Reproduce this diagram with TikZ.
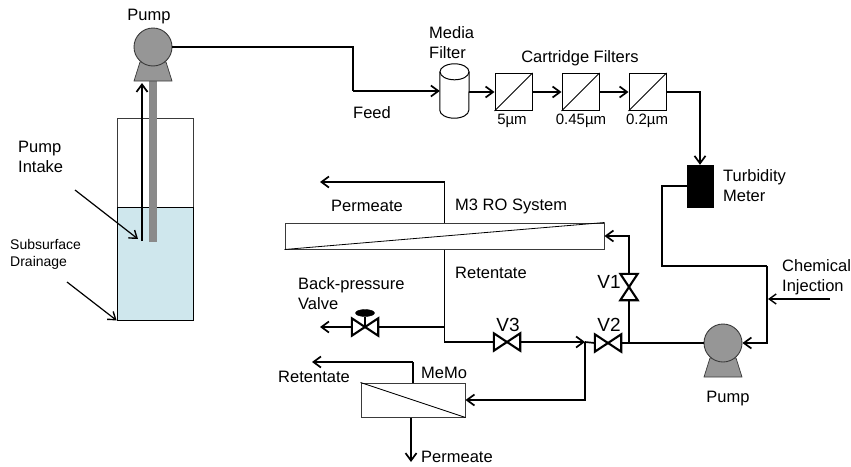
\documentclass[tikz,border=0pt]{standalone}
\usepackage{fontspec}
\setmainfont{Liberation Sans}
\usepackage{tikz}
\usetikzlibrary{arrows.meta,shapes.geometric}
\usepackage{xcolor}
\definecolor{PumpGray}{HTML}{969696}
\definecolor{PipeGray}{HTML}{8A8A8A}
\definecolor{Water}{HTML}{CFE7ED}
\definecolor{Edge}{HTML}{3A3A3A}
\tikzset{
  pipe/.style={line width=1.7pt},
  flow/.style={pipe, -{Straight Barb[length=7.5pt,width=11pt,line width=1.7pt]}},
  thinflow/.style={line width=1.2pt, -{Straight Barb[length=7pt,width=10pt,line width=1.4pt]}},
  lbl/.style={inner sep=0pt, align=left, font=\fontsize{16.5}{20}\selectfont},
  smalllbl/.style={lbl, font=\fontsize{14}{17}\selectfont},
  sizelbl/.style={lbl, font=\fontsize{15}{18}\selectfont},
  valvelbl/.style={lbl, font=\fontsize{19}{22}\selectfont},
  cartbox/.style={draw, line width=1pt, minimum size=37pt, inner sep=0pt},
  membox/.style={draw=Edge, line width=1pt, fill=white, inner sep=0pt},
  valvebox/.style={inner sep=0pt, fill=white},
  valveh/.style={valvebox, minimum width=26pt, minimum height=17pt},
  valvev/.style={valvebox, minimum width=17pt, minimum height=26pt},
  bowtie/.style={line width=2.1pt, line join=miter},
  pumpbody/.style={circle, draw=Edge, line width=0.9pt, fill=PumpGray, minimum size=38pt, inner sep=0pt},
  pumpbase/.style={draw=Edge, line width=0.7pt, fill=PumpGray},
}
\newcommand{\pumpsym}[2]{%
  \draw[pumpbase] (#2) ++(-13,15) -- ++(-6,19) -- ++(38,0) -- ++(-6,-19) -- cycle;
  \node[pumpbody] (#1) at (#2) {};}
\newcommand{\valveh}[2]{%
  \node[valveh] (#1) at (#2) {};
  \draw[bowtie] (#1.north west) -- (#1.south east) -- (#1.north east) -- (#1.south west) -- cycle;}
\newcommand{\valvev}[2]{%
  \node[valvev] (#1) at (#2) {};
  \draw[bowtie] (#1.north west) -- (#1.south east) -- (#1.south west) -- (#1.north east) -- cycle;}

\begin{document}
\begin{tikzpicture}[x=1pt, y=-1pt]
  \useasboundingbox (0,0) rectangle (851,466);

  % drainage well
  \node[draw=Edge, line width=0.8pt, minimum width=76pt, minimum height=202pt, inner sep=0pt] (well) at (155,219) {};
  \node[draw=black, line width=1pt, fill=Water, minimum width=76pt, minimum height=113pt, inner sep=0pt] (water) at (155,263.5) {};
  \draw[PipeGray, line width=8pt] (153,75) -- (153,242);
  \pumpsym{pumpa}{153,47}
  \node[lbl] (pumpatxt) at (149,17) {Pump};
  \coordinate (pumpamouth) at (142,83);
  \coordinate (suction) at (142,241);
  \draw[flow] (suction) -- (pumpamouth);
  \node[lbl, anchor=west] (intaketxt) at (18,157) {Pump\\[0pt]Intake};
  \node[smalllbl, anchor=west] (draintxt) at (10,254.5) {Subsurface\\Drainage};
  \coordinate (intakefrom) at (75,190);
  \coordinate (intaketo) at (138,239);
  \coordinate (drainfrom) at (67,282);
  \draw[thinflow] (intakefrom) -- (intaketo);
  \draw[thinflow] (drainfrom) -- (well.south west);

  % pretreatment train
  \node[minimum width=29pt, minimum height=54pt, inner sep=0pt] (media) at (454.5,91) {};
  \draw[line width=1pt] ([yshift=-8pt]media.north west) -- ([yshift=8pt]media.south west)
    arc[start angle=180, end angle=360, x radius=14.5pt, y radius=8pt] -- ([yshift=-8pt]media.north east);
  \draw[line width=1pt] ([yshift=-8pt]media.north) ellipse [x radius=14.5pt, y radius=8pt];
  \node[cartbox] (carta) at (513.5,92) {};
  \node[cartbox] (cartb) at (580.5,92) {};
  \node[cartbox] (cartc) at (647.5,92) {};
  \foreach \c in {carta,cartb,cartc}
    \draw[line width=0.8pt] (\c.south west) -- (\c.north east);
  \node[lbl, anchor=west] (mediatxt) at (429,42.5) {Media\\Filter};
  \node[lbl] (carttxt) at (580,58) {Cartridge Filters};
  \node[sizelbl] (sizea) at (512,121) {5µm};
  \node[sizelbl] (sizeb) at (581,121) {0.45µm};
  \node[sizelbl] (sizec) at (647,121) {0.2µm};
  \node[lbl] (feedtxt) at (372,113) {Feed};

  \coordinate (feedbend) at (353,91);
  \draw[pipe] (pumpa.east) -| (feedbend);
  \draw[flow] (feedbend) -- (media.west |- feedbend);
  \draw[flow] (media.east |- carta) -- (carta.west);
  \draw[flow] (carta.east) -- (cartb.west);
  \draw[flow] (cartb.east) -- (cartc.west);

  % turbidity meter and feed pump
  \node[draw, fill=black, minimum width=26pt, minimum height=42pt, inner sep=0pt] (meter) at (700,186) {};
  \node[lbl, anchor=west] (metertxt) at (723,185.5) {Turbidity\\Meter};
  \draw[flow] (cartc.east) -| (meter.north);
  \pumpsym{pumpb}{723,343}
  \node[lbl] (pumpbtxt) at (728,399) {Pump};
  \coordinate (loopa) at (662,266);
  \coordinate (loopb) at (767,266);
  \draw[pipe] (meter.west) -| (loopa) -- (loopb);
  \draw[flow] (loopb) |- (pumpb.east);
  \node[lbl, anchor=west] (chemtxt) at (782,277) {Chemical\\Injection};
  \coordinate (chemfrom) at (830,299);
  \coordinate (chemto) at (768,299);
  \draw[thinflow] (chemfrom) -- (chemto);

  % RO system
  \node[membox, minimum width=319pt, minimum height=26pt] (ro) at (444.5,236) {};
  \draw[line width=0.8pt] (ro.south west) -- (ro.north east);
  \node[lbl] (permtxt) at (367,206) {Permeate};
  \node[lbl, anchor=west] (rotxt) at (455,206) {M3 RO System};
  \node[lbl, anchor=west] (rettxt) at (455,273) {Retentate};
  \coordinate (permbend) at (444.5,182);
  \coordinate (permend) at (320,182);
  \draw[pipe] (ro.north) -- (permbend);
  \draw[flow] (permbend) -- (permend);

  % valves
  \valveh{vthree}{507,342}
  \valveh{vtwo}{608,343}
  \valvev{vone}{629,287}
  \valveh{vback}{365,327}
  \node[valvelbl] (vthreetxt) at (508,325) {V3};
  \node[valvelbl] (vtwotxt) at (609,325) {V2};
  \node[valvelbl] (vonetxt) at (609,282) {V1};
  \node[lbl, anchor=west] (backtxt) at (298,294) {Back-pressure\\Valve};
  \node[draw, fill=black, ellipse, minimum width=19pt, minimum height=7pt, inner sep=0pt] (handle) at (365,313) {};
  \draw[pipe] (handle) -- (vback.center);

  \coordinate (retbend) at (444.5,342);
  \coordinate (backtee) at (444.5,327);
  \coordinate (backend) at (320,327);
  \coordinate (memotee) at (585,342);
  \draw[pipe] (ro.south) -- (retbend) -- (vthree.west);
  \draw[pipe] (backtee) -- (vback.east);
  \draw[flow] (vback.west) -- (backend);
  \draw[flow] (vthree.east) -- (memotee);
  \draw[pipe] (memotee) -- (vtwo.west);
  \draw[pipe] (pumpb.west) -- (vtwo.east);
  \draw[pipe] (vone.south) -- (vone.south |- pumpb);
  \draw[flow] (vone.north) |- (ro.east);

  % MeMo module
  \node[membox, minimum width=104pt, minimum height=34pt] (memo) at (413,400) {};
  \draw[line width=0.8pt] (memo.north west) -- (memo.south east);
  \node[lbl, anchor=west] (memotxt) at (421,373) {MeMo};
  \node[lbl] (memoret) at (314,377) {Retentate};
  \node[lbl, anchor=west] (memoperm) at (421,457) {Permeate};
  \coordinate (memobend) at (413,362);
  \coordinate (memoretend) at (312,362);
  \coordinate (memopermend) at (411,462);
  \draw[pipe] (memo.north) -- (memobend);
  \draw[flow] (memobend) -- (memoretend);
  \draw[flow] (memotee) |- (memo.east);
  \draw[flow] (memo.south -| memopermend) -- (memopermend);
\end{tikzpicture}
\end{document}
